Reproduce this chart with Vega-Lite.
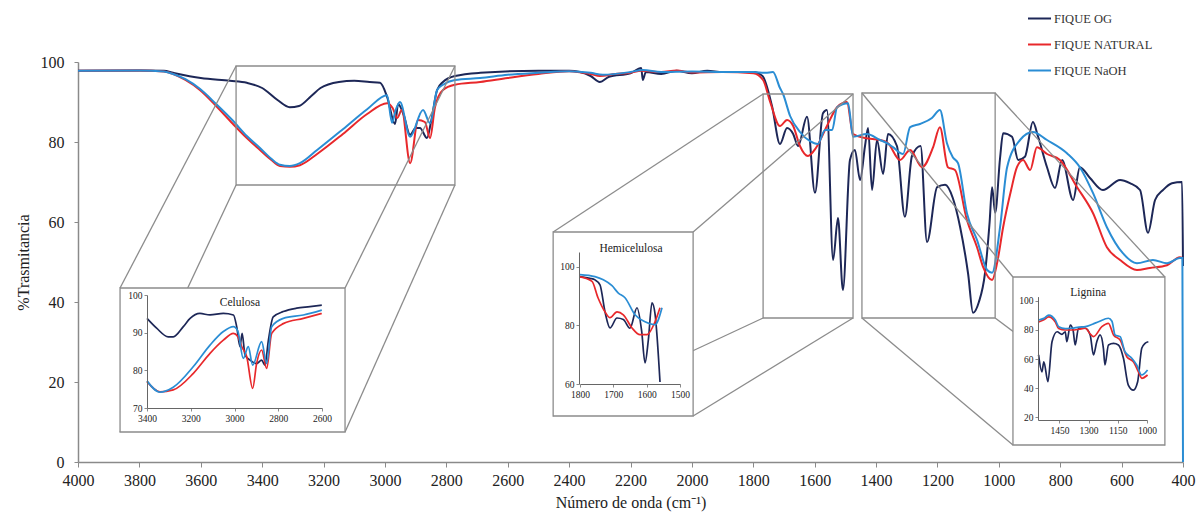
{
"$schema": "https://vega.github.io/schema/vega-lite/v6.json",
"width": 1105, "height": 400,
"autosize": {"type": "none"},
"padding": {"left": 78, "top": 62, "right": 17, "bottom": 61},
"background": "white",
"config": {
 "view": {"stroke": null},
 "axis": {"grid": false, "labelFont": "Liberation Serif, Times New Roman, serif", "titleFont": "Liberation Serif, Times New Roman, serif", "labelColor": "#222", "titleColor": "#222", "domainColor": "#8a8a8a", "tickColor": "#8a8a8a", "titleFontWeight": "normal", "labelFlush": false, "labelOverlap": false},
 "legend": {"labelFont": "Liberation Serif, Times New Roman, serif"},
 "text": {"font": "Liberation Serif, Times New Roman, serif"}
},
"datasets": {
 "main": [
  {"s":"FIQUE OG","x":4000,"y":97.8},{"s":"FIQUE OG","x":3800,"y":97.9},{"s":"FIQUE OG","x":3720,"y":97.8},{"s":"FIQUE OG","x":3690,"y":97.3},{"s":"FIQUE OG","x":3600,"y":96},{"s":"FIQUE OG","x":3505,"y":95.3},{"s":"FIQUE OG","x":3450,"y":94.8},{"s":"FIQUE OG","x":3400,"y":93.5},{"s":"FIQUE OG","x":3350,"y":90.5},{"s":"FIQUE OG","x":3310,"y":88.7},{"s":"FIQUE OG","x":3280,"y":89},{"s":"FIQUE OG","x":3240,"y":91.5},{"s":"FIQUE OG","x":3210,"y":93.5},{"s":"FIQUE OG","x":3150,"y":95},{"s":"FIQUE OG","x":3100,"y":95.3},{"s":"FIQUE OG","x":3050,"y":95},{"s":"FIQUE OG","x":3016,"y":94.8},{"s":"FIQUE OG","x":2993,"y":91.3},{"s":"FIQUE OG","x":2967,"y":84.5},{"s":"FIQUE OG","x":2957,"y":89.5},{"s":"FIQUE OG","x":2940,"y":87},{"s":"FIQUE OG","x":2918,"y":81.8},{"s":"FIQUE OG","x":2900,"y":83.5},{"s":"FIQUE OG","x":2886,"y":83.5},{"s":"FIQUE OG","x":2863,"y":81},{"s":"FIQUE OG","x":2850,"y":85},{"s":"FIQUE OG","x":2830,"y":93},{"s":"FIQUE OG","x":2811,"y":95},{"s":"FIQUE OG","x":2772,"y":96.5},{"s":"FIQUE OG","x":2690,"y":97.3},{"s":"FIQUE OG","x":2500,"y":97.8},{"s":"FIQUE OG","x":2400,"y":97.8},{"s":"FIQUE OG","x":2330,"y":96.5},{"s":"FIQUE OG","x":2300,"y":95},{"s":"FIQUE OG","x":2270,"y":96.3},{"s":"FIQUE OG","x":2200,"y":97.2},{"s":"FIQUE OG","x":2165,"y":98.5},{"s":"FIQUE OG","x":2160,"y":95.5},{"s":"FIQUE OG","x":2150,"y":97.5},{"s":"FIQUE OG","x":2100,"y":97},{"s":"FIQUE OG","x":2050,"y":97.8},{"s":"FIQUE OG","x":2000,"y":97.2},{"s":"FIQUE OG","x":1950,"y":97.8},{"s":"FIQUE OG","x":1900,"y":97.5},{"s":"FIQUE OG","x":1800,"y":97.5},{"s":"FIQUE OG","x":1770,"y":96.5},{"s":"FIQUE OG","x":1739,"y":89},{"s":"FIQUE OG","x":1713,"y":79.5},{"s":"FIQUE OG","x":1690,"y":83.5},{"s":"FIQUE OG","x":1670,"y":82},{"s":"FIQUE OG","x":1654,"y":79},{"s":"FIQUE OG","x":1625,"y":86.3},{"s":"FIQUE OG","x":1599,"y":67.3},{"s":"FIQUE OG","x":1573,"y":87.2},{"s":"FIQUE OG","x":1560,"y":88},{"s":"FIQUE OG","x":1540,"y":50.5},{"s":"FIQUE OG","x":1524,"y":61},{"s":"FIQUE OG","x":1508,"y":43},{"s":"FIQUE OG","x":1485,"y":75.5},{"s":"FIQUE OG","x":1469,"y":78},{"s":"FIQUE OG","x":1452,"y":70.5},{"s":"FIQUE OG","x":1436,"y":79},{"s":"FIQUE OG","x":1426,"y":83.5},{"s":"FIQUE OG","x":1413,"y":68},{"s":"FIQUE OG","x":1397,"y":80.5},{"s":"FIQUE OG","x":1377,"y":72},{"s":"FIQUE OG","x":1361,"y":82},{"s":"FIQUE OG","x":1332,"y":79},{"s":"FIQUE OG","x":1306,"y":61.3},{"s":"FIQUE OG","x":1283,"y":76.5},{"s":"FIQUE OG","x":1255,"y":79},{"s":"FIQUE OG","x":1234,"y":55},{"s":"FIQUE OG","x":1201,"y":68.7},{"s":"FIQUE OG","x":1175,"y":69.3},{"s":"FIQUE OG","x":1150,"y":66},{"s":"FIQUE OG","x":1126,"y":58.7},{"s":"FIQUE OG","x":1100,"y":47},{"s":"FIQUE OG","x":1084,"y":37.3},{"s":"FIQUE OG","x":1065,"y":40},{"s":"FIQUE OG","x":1045,"y":47.3},{"s":"FIQUE OG","x":1030,"y":60},{"s":"FIQUE OG","x":1022,"y":68.7},{"s":"FIQUE OG","x":1012,"y":62.3},{"s":"FIQUE OG","x":996,"y":76},{"s":"FIQUE OG","x":986,"y":82.2},{"s":"FIQUE OG","x":957,"y":81.3},{"s":"FIQUE OG","x":937,"y":75.5},{"s":"FIQUE OG","x":915,"y":76.3},{"s":"FIQUE OG","x":889,"y":85},{"s":"FIQUE OG","x":872,"y":81.3},{"s":"FIQUE OG","x":843,"y":73.7},{"s":"FIQUE OG","x":817,"y":68.5},{"s":"FIQUE OG","x":794,"y":75.5},{"s":"FIQUE OG","x":758,"y":65.5},{"s":"FIQUE OG","x":736,"y":73.7},{"s":"FIQUE OG","x":703,"y":71},{"s":"FIQUE OG","x":661,"y":68},{"s":"FIQUE OG","x":605,"y":70.5},{"s":"FIQUE OG","x":573,"y":69.7},{"s":"FIQUE OG","x":540,"y":68},{"s":"FIQUE OG","x":514,"y":57.3},{"s":"FIQUE OG","x":491,"y":65.5},{"s":"FIQUE OG","x":465,"y":68},{"s":"FIQUE OG","x":436,"y":69.7},{"s":"FIQUE OG","x":403,"y":70},{"s":"FIQUE OG","x":400,"y":49},
  {"s":"FIQUE NATURAL","x":4000,"y":97.8},{"s":"FIQUE NATURAL","x":3800,"y":97.9},{"s":"FIQUE NATURAL","x":3720,"y":97.6},{"s":"FIQUE NATURAL","x":3690,"y":97},{"s":"FIQUE NATURAL","x":3650,"y":95.5},{"s":"FIQUE NATURAL","x":3603,"y":93},{"s":"FIQUE NATURAL","x":3550,"y":89},{"s":"FIQUE NATURAL","x":3495,"y":84.5},{"s":"FIQUE NATURAL","x":3450,"y":81},{"s":"FIQUE NATURAL","x":3407,"y":78},{"s":"FIQUE NATURAL","x":3370,"y":75.5},{"s":"FIQUE NATURAL","x":3342,"y":74},{"s":"FIQUE NATURAL","x":3310,"y":73.8},{"s":"FIQUE NATURAL","x":3277,"y":74.2},{"s":"FIQUE NATURAL","x":3221,"y":77},{"s":"FIQUE NATURAL","x":3137,"y":82},{"s":"FIQUE NATURAL","x":3058,"y":87},{"s":"FIQUE NATURAL","x":2993,"y":89.7},{"s":"FIQUE NATURAL","x":2975,"y":88.5},{"s":"FIQUE NATURAL","x":2960,"y":86},{"s":"FIQUE NATURAL","x":2945,"y":88},{"s":"FIQUE NATURAL","x":2918,"y":74.7},{"s":"FIQUE NATURAL","x":2892,"y":85.5},{"s":"FIQUE NATURAL","x":2870,"y":85},{"s":"FIQUE NATURAL","x":2853,"y":81},{"s":"FIQUE NATURAL","x":2837,"y":88.7},{"s":"FIQUE NATURAL","x":2811,"y":93},{"s":"FIQUE NATURAL","x":2772,"y":94.3},{"s":"FIQUE NATURAL","x":2690,"y":95},{"s":"FIQUE NATURAL","x":2600,"y":96},{"s":"FIQUE NATURAL","x":2500,"y":97},{"s":"FIQUE NATURAL","x":2400,"y":97.7},{"s":"FIQUE NATURAL","x":2330,"y":97},{"s":"FIQUE NATURAL","x":2300,"y":96.5},{"s":"FIQUE NATURAL","x":2250,"y":97},{"s":"FIQUE NATURAL","x":2200,"y":97.3},{"s":"FIQUE NATURAL","x":2165,"y":97.8},{"s":"FIQUE NATURAL","x":2100,"y":97.5},{"s":"FIQUE NATURAL","x":2050,"y":97.9},{"s":"FIQUE NATURAL","x":2000,"y":97.4},{"s":"FIQUE NATURAL","x":1900,"y":97.5},{"s":"FIQUE NATURAL","x":1800,"y":97.2},{"s":"FIQUE NATURAL","x":1768,"y":95.5},{"s":"FIQUE NATURAL","x":1745,"y":90},{"s":"FIQUE NATURAL","x":1713,"y":84},{"s":"FIQUE NATURAL","x":1690,"y":85.5},{"s":"FIQUE NATURAL","x":1670,"y":84},{"s":"FIQUE NATURAL","x":1648,"y":79},{"s":"FIQUE NATURAL","x":1622,"y":76.5},{"s":"FIQUE NATURAL","x":1596,"y":78.5},{"s":"FIQUE NATURAL","x":1560,"y":84},{"s":"FIQUE NATURAL","x":1527,"y":88.7},{"s":"FIQUE NATURAL","x":1495,"y":90},{"s":"FIQUE NATURAL","x":1475,"y":82},{"s":"FIQUE NATURAL","x":1436,"y":81},{"s":"FIQUE NATURAL","x":1387,"y":80.5},{"s":"FIQUE NATURAL","x":1361,"y":79.7},{"s":"FIQUE NATURAL","x":1322,"y":75.5},{"s":"FIQUE NATURAL","x":1289,"y":78},{"s":"FIQUE NATURAL","x":1250,"y":73.7},{"s":"FIQUE NATURAL","x":1214,"y":78.7},{"s":"FIQUE NATURAL","x":1192,"y":83.7},{"s":"FIQUE NATURAL","x":1166,"y":73.7},{"s":"FIQUE NATURAL","x":1143,"y":73},{"s":"FIQUE NATURAL","x":1104,"y":60.5},{"s":"FIQUE NATURAL","x":1071,"y":53.7},{"s":"FIQUE NATURAL","x":1051,"y":48.7},{"s":"FIQUE NATURAL","x":1022,"y":45.5},{"s":"FIQUE NATURAL","x":1005,"y":50},{"s":"FIQUE NATURAL","x":986,"y":58.7},{"s":"FIQUE NATURAL","x":960,"y":68},{"s":"FIQUE NATURAL","x":941,"y":73.7},{"s":"FIQUE NATURAL","x":921,"y":75.5},{"s":"FIQUE NATURAL","x":898,"y":73},{"s":"FIQUE NATURAL","x":876,"y":78.7},{"s":"FIQUE NATURAL","x":843,"y":77},{"s":"FIQUE NATURAL","x":801,"y":75.5},{"s":"FIQUE NATURAL","x":745,"y":68.7},{"s":"FIQUE NATURAL","x":693,"y":62.2},{"s":"FIQUE NATURAL","x":648,"y":53.7},{"s":"FIQUE NATURAL","x":605,"y":50.5},{"s":"FIQUE NATURAL","x":550,"y":48},{"s":"FIQUE NATURAL","x":508,"y":48.5},{"s":"FIQUE NATURAL","x":452,"y":49.2},{"s":"FIQUE NATURAL","x":410,"y":51.2},{"s":"FIQUE NATURAL","x":402,"y":51},
  {"s":"FIQUE NaOH","x":4000,"y":97.8},{"s":"FIQUE NaOH","x":3800,"y":97.9},{"s":"FIQUE NaOH","x":3720,"y":97.6},{"s":"FIQUE NaOH","x":3690,"y":97},{"s":"FIQUE NaOH","x":3650,"y":95.7},{"s":"FIQUE NaOH","x":3603,"y":93.3},{"s":"FIQUE NaOH","x":3550,"y":89.5},{"s":"FIQUE NaOH","x":3495,"y":85.3},{"s":"FIQUE NaOH","x":3450,"y":81.5},{"s":"FIQUE NaOH","x":3407,"y":78.5},{"s":"FIQUE NaOH","x":3370,"y":75.8},{"s":"FIQUE NaOH","x":3342,"y":74.3},{"s":"FIQUE NaOH","x":3310,"y":74},{"s":"FIQUE NaOH","x":3277,"y":74.7},{"s":"FIQUE NaOH","x":3221,"y":78},{"s":"FIQUE NaOH","x":3137,"y":83.2},{"s":"FIQUE NaOH","x":3058,"y":88.2},{"s":"FIQUE NaOH","x":2993,"y":91.7},{"s":"FIQUE NaOH","x":2977,"y":84.8},{"s":"FIQUE NaOH","x":2965,"y":88},{"s":"FIQUE NaOH","x":2951,"y":90},{"s":"FIQUE NaOH","x":2918,"y":81.3},{"s":"FIQUE NaOH","x":2876,"y":88},{"s":"FIQUE NaOH","x":2853,"y":84.7},{"s":"FIQUE NaOH","x":2830,"y":93},{"s":"FIQUE NaOH","x":2811,"y":94.3},{"s":"FIQUE NaOH","x":2772,"y":95.5},{"s":"FIQUE NaOH","x":2690,"y":96},{"s":"FIQUE NaOH","x":2600,"y":96.8},{"s":"FIQUE NaOH","x":2500,"y":97.3},{"s":"FIQUE NaOH","x":2400,"y":97.7},{"s":"FIQUE NaOH","x":2330,"y":97.3},{"s":"FIQUE NaOH","x":2290,"y":96.8},{"s":"FIQUE NaOH","x":2200,"y":97.5},{"s":"FIQUE NaOH","x":2160,"y":98},{"s":"FIQUE NaOH","x":2100,"y":97.5},{"s":"FIQUE NaOH","x":2000,"y":97.6},{"s":"FIQUE NaOH","x":1900,"y":97.5},{"s":"FIQUE NaOH","x":1800,"y":97.5},{"s":"FIQUE NaOH","x":1760,"y":97.3},{"s":"FIQUE NaOH","x":1736,"y":97.5},{"s":"FIQUE NaOH","x":1713,"y":93.5},{"s":"FIQUE NaOH","x":1703,"y":92},{"s":"FIQUE NaOH","x":1680,"y":86.5},{"s":"FIQUE NaOH","x":1648,"y":82.5},{"s":"FIQUE NaOH","x":1615,"y":80.2},{"s":"FIQUE NaOH","x":1590,"y":79.5},{"s":"FIQUE NaOH","x":1566,"y":83},{"s":"FIQUE NaOH","x":1543,"y":83},{"s":"FIQUE NaOH","x":1527,"y":88.7},{"s":"FIQUE NaOH","x":1491,"y":89.7},{"s":"FIQUE NaOH","x":1475,"y":81.3},{"s":"FIQUE NaOH","x":1430,"y":82},{"s":"FIQUE NaOH","x":1387,"y":80.5},{"s":"FIQUE NaOH","x":1364,"y":79.7},{"s":"FIQUE NaOH","x":1345,"y":78.7},{"s":"FIQUE NaOH","x":1312,"y":77},{"s":"FIQUE NaOH","x":1289,"y":83.7},{"s":"FIQUE NaOH","x":1257,"y":84.5},{"s":"FIQUE NaOH","x":1218,"y":86},{"s":"FIQUE NaOH","x":1192,"y":88},{"s":"FIQUE NaOH","x":1169,"y":79.7},{"s":"FIQUE NaOH","x":1150,"y":76.2},{"s":"FIQUE NaOH","x":1133,"y":74.7},{"s":"FIQUE NaOH","x":1104,"y":62.2},{"s":"FIQUE NaOH","x":1071,"y":55.5},{"s":"FIQUE NaOH","x":1038,"y":48},{"s":"FIQUE NaOH","x":1022,"y":47.3},{"s":"FIQUE NaOH","x":996,"y":58.7},{"s":"FIQUE NaOH","x":973,"y":73.7},{"s":"FIQUE NaOH","x":931,"y":80.5},{"s":"FIQUE NaOH","x":889,"y":82.5},{"s":"FIQUE NaOH","x":843,"y":80.5},{"s":"FIQUE NaOH","x":778,"y":77.2},{"s":"FIQUE NaOH","x":736,"y":73.7},{"s":"FIQUE NaOH","x":693,"y":67.2},{"s":"FIQUE NaOH","x":648,"y":58.7},{"s":"FIQUE NaOH","x":596,"y":52.2},{"s":"FIQUE NaOH","x":550,"y":49.7},{"s":"FIQUE NaOH","x":498,"y":50.5},{"s":"FIQUE NaOH","x":452,"y":49.7},{"s":"FIQUE NaOH","x":410,"y":51},{"s":"FIQUE NaOH","x":402,"y":51},{"s":"FIQUE NaOH","x":400,"y":0}
 ],
 "cel": [
  {"s":"FIQUE OG","x":3400,"y":93.8},{"s":"FIQUE OG","x":3356,"y":91.2},{"s":"FIQUE OG","x":3303,"y":88.9},{"s":"FIQUE OG","x":3280,"y":88.9},{"s":"FIQUE OG","x":3234,"y":91.6},{"s":"FIQUE OG","x":3203,"y":93.8},{"s":"FIQUE OG","x":3158,"y":95.1},{"s":"FIQUE OG","x":3112,"y":94.7},{"s":"FIQUE OG","x":3051,"y":95.1},{"s":"FIQUE OG","x":3005,"y":94.7},{"s":"FIQUE OG","x":2990,"y":91.6},{"s":"FIQUE OG","x":2975,"y":86.3},{"s":"FIQUE OG","x":2965,"y":89.8},{"s":"FIQUE OG","x":2952,"y":84.1},{"s":"FIQUE OG","x":2929,"y":82.7},{"s":"FIQUE OG","x":2899,"y":81.8},{"s":"FIQUE OG","x":2876,"y":82.7},{"s":"FIQUE OG","x":2861,"y":81.4},{"s":"FIQUE OG","x":2845,"y":88},{"s":"FIQUE OG","x":2823,"y":94.2},{"s":"FIQUE OG","x":2777,"y":95.6},{"s":"FIQUE OG","x":2716,"y":96.5},{"s":"FIQUE OG","x":2655,"y":96.9},{"s":"FIQUE OG","x":2601,"y":97.3},
  {"s":"FIQUE NATURAL","x":3400,"y":77},{"s":"FIQUE NATURAL","x":3341,"y":74.3},{"s":"FIQUE NATURAL","x":3280,"y":74.8},{"s":"FIQUE NATURAL","x":3188,"y":79.2},{"s":"FIQUE NATURAL","x":3112,"y":84.5},{"s":"FIQUE NATURAL","x":3051,"y":88},{"s":"FIQUE NATURAL","x":3005,"y":89.8},{"s":"FIQUE NATURAL","x":2985,"y":89},{"s":"FIQUE NATURAL","x":2967,"y":86.3},{"s":"FIQUE NATURAL","x":2944,"y":83.6},{"s":"FIQUE NATURAL","x":2917,"y":75.2},{"s":"FIQUE NATURAL","x":2899,"y":81.8},{"s":"FIQUE NATURAL","x":2876,"y":85.4},{"s":"FIQUE NATURAL","x":2853,"y":80.5},{"s":"FIQUE NATURAL","x":2830,"y":89.8},{"s":"FIQUE NATURAL","x":2777,"y":92.4},{"s":"FIQUE NATURAL","x":2685,"y":93.8},{"s":"FIQUE NATURAL","x":2601,"y":95.1},
  {"s":"FIQUE NaOH","x":3400,"y":77.2},{"s":"FIQUE NaOH","x":3341,"y":74.2},{"s":"FIQUE NaOH","x":3280,"y":75.5},{"s":"FIQUE NaOH","x":3188,"y":81},{"s":"FIQUE NaOH","x":3112,"y":86.7},{"s":"FIQUE NaOH","x":3051,"y":90.3},{"s":"FIQUE NaOH","x":3005,"y":91.6},{"s":"FIQUE NaOH","x":2985,"y":90.5},{"s":"FIQUE NaOH","x":2960,"y":83.2},{"s":"FIQUE NaOH","x":2937,"y":86.3},{"s":"FIQUE NaOH","x":2917,"y":81.4},{"s":"FIQUE NaOH","x":2876,"y":87.6},{"s":"FIQUE NaOH","x":2853,"y":81.8},{"s":"FIQUE NaOH","x":2830,"y":91.6},{"s":"FIQUE NaOH","x":2777,"y":93.8},{"s":"FIQUE NaOH","x":2685,"y":94.7},{"s":"FIQUE NaOH","x":2601,"y":96}
 ],
 "hemi": [
  {"s":"FIQUE OG","x":1800,"y":96.6},{"s":"FIQUE OG","x":1770,"y":96},{"s":"FIQUE OG","x":1755,"y":95.5},{"s":"FIQUE OG","x":1740,"y":93.8},{"s":"FIQUE OG","x":1725,"y":84.6},{"s":"FIQUE OG","x":1710,"y":79.1},{"s":"FIQUE OG","x":1689,"y":82.5},{"s":"FIQUE OG","x":1670,"y":82},{"s":"FIQUE OG","x":1650,"y":79},{"s":"FIQUE OG","x":1629,"y":86},{"s":"FIQUE OG","x":1615,"y":78},{"s":"FIQUE OG","x":1605,"y":67.2},{"s":"FIQUE OG","x":1595,"y":75},{"s":"FIQUE OG","x":1584,"y":87.7},{"s":"FIQUE OG","x":1575,"y":84},{"s":"FIQUE OG","x":1560,"y":60.7},
  {"s":"FIQUE NATURAL","x":1800,"y":96.5},{"s":"FIQUE NATURAL","x":1764,"y":95},{"s":"FIQUE NATURAL","x":1746,"y":89.4},{"s":"FIQUE NATURAL","x":1725,"y":84.6},{"s":"FIQUE NATURAL","x":1710,"y":82.6},{"s":"FIQUE NATURAL","x":1689,"y":84.6},{"s":"FIQUE NATURAL","x":1670,"y":83.6},{"s":"FIQUE NATURAL","x":1644,"y":79.1},{"s":"FIQUE NATURAL","x":1620,"y":76.8},{"s":"FIQUE NATURAL","x":1599,"y":76.8},{"s":"FIQUE NATURAL","x":1575,"y":81.2},{"s":"FIQUE NATURAL","x":1560,"y":86},
  {"s":"FIQUE NaOH","x":1800,"y":97.3},{"s":"FIQUE NaOH","x":1755,"y":96.6},{"s":"FIQUE NaOH","x":1730,"y":95.5},{"s":"FIQUE NaOH","x":1704,"y":93.5},{"s":"FIQUE NaOH","x":1685,"y":91},{"s":"FIQUE NaOH","x":1665,"y":89.4},{"s":"FIQUE NaOH","x":1635,"y":83.6},{"s":"FIQUE NaOH","x":1605,"y":81.2},{"s":"FIQUE NaOH","x":1575,"y":80.2},{"s":"FIQUE NaOH","x":1554,"y":86}
 ],
 "lig": [
  {"s":"FIQUE OG","x":1557,"y":62.8},{"s":"FIQUE OG","x":1540,"y":51.2},{"s":"FIQUE OG","x":1530,"y":58.1},{"s":"FIQUE OG","x":1509,"y":44.4},{"s":"FIQUE OG","x":1488,"y":71.9},{"s":"FIQUE OG","x":1462,"y":78.8},{"s":"FIQUE OG","x":1437,"y":77},{"s":"FIQUE OG","x":1420,"y":78.8},{"s":"FIQUE OG","x":1412,"y":71.9},{"s":"FIQUE OG","x":1394,"y":83.4},{"s":"FIQUE OG","x":1380,"y":80},{"s":"FIQUE OG","x":1369,"y":69.7},{"s":"FIQUE OG","x":1352,"y":81.2},{"s":"FIQUE OG","x":1317,"y":81.2},{"s":"FIQUE OG","x":1292,"y":76.6},{"s":"FIQUE OG","x":1275,"y":62.8},{"s":"FIQUE OG","x":1258,"y":71.9},{"s":"FIQUE OG","x":1241,"y":76.6},{"s":"FIQUE OG","x":1224,"y":67.4},{"s":"FIQUE OG","x":1216,"y":55.9},{"s":"FIQUE OG","x":1198,"y":69.7},{"s":"FIQUE OG","x":1172,"y":70.8},{"s":"FIQUE OG","x":1147,"y":69.7},{"s":"FIQUE OG","x":1121,"y":60.5},{"s":"FIQUE OG","x":1096,"y":42.1},{"s":"FIQUE OG","x":1070,"y":38.6},{"s":"FIQUE OG","x":1048,"y":44.4},{"s":"FIQUE OG","x":1027,"y":67.4},{"s":"FIQUE OG","x":1010,"y":70.8},{"s":"FIQUE OG","x":993,"y":71.9},
  {"s":"FIQUE NATURAL","x":1557,"y":85.5},{"s":"FIQUE NATURAL","x":1530,"y":87},{"s":"FIQUE NATURAL","x":1505,"y":89},{"s":"FIQUE NATURAL","x":1471,"y":85.5},{"s":"FIQUE NATURAL","x":1454,"y":81},{"s":"FIQUE NATURAL","x":1420,"y":80},{"s":"FIQUE NATURAL","x":1386,"y":80},{"s":"FIQUE NATURAL","x":1350,"y":80.5},{"s":"FIQUE NATURAL","x":1317,"y":81.2},{"s":"FIQUE NATURAL","x":1290,"y":77},{"s":"FIQUE NATURAL","x":1275,"y":75.4},{"s":"FIQUE NATURAL","x":1232,"y":82.3},{"s":"FIQUE NATURAL","x":1198,"y":84.6},{"s":"FIQUE NATURAL","x":1172,"y":76.6},{"s":"FIQUE NATURAL","x":1138,"y":73.1},{"s":"FIQUE NATURAL","x":1104,"y":61.6},{"s":"FIQUE NATURAL","x":1070,"y":58.1},{"s":"FIQUE NATURAL","x":1040,"y":50},{"s":"FIQUE NATURAL","x":1027,"y":46.7},{"s":"FIQUE NATURAL","x":997,"y":49},
  {"s":"FIQUE NaOH","x":1557,"y":86.9},{"s":"FIQUE NaOH","x":1530,"y":88},{"s":"FIQUE NaOH","x":1505,"y":90.3},{"s":"FIQUE NaOH","x":1471,"y":86.9},{"s":"FIQUE NaOH","x":1454,"y":82.3},{"s":"FIQUE NaOH","x":1420,"y":81},{"s":"FIQUE NaOH","x":1386,"y":81.2},{"s":"FIQUE NaOH","x":1350,"y":82},{"s":"FIQUE NaOH","x":1317,"y":82.3},{"s":"FIQUE NaOH","x":1280,"y":84},{"s":"FIQUE NaOH","x":1249,"y":85.7},{"s":"FIQUE NaOH","x":1198,"y":88.1},{"s":"FIQUE NaOH","x":1180,"y":86},{"s":"FIQUE NaOH","x":1164,"y":76.6},{"s":"FIQUE NaOH","x":1138,"y":75.4},{"s":"FIQUE NaOH","x":1113,"y":65},{"s":"FIQUE NaOH","x":1078,"y":60.5},{"s":"FIQUE NaOH","x":1053,"y":55.9},{"s":"FIQUE NaOH","x":1027,"y":49},{"s":"FIQUE NaOH","x":997,"y":52.4}
 ],
 "back": [
  {"x":3485,"x2":2772,"y":69.25,"y2":99},
  {"x":1768,"x2":1475,"y":36,"y2":92},
  {"x":1446,"x2":1012,"y":36,"y2":92.25}
 ],
 "front": [
  {"x":3863,"x2":3130,"y":7.5,"y2":43.5},
  {"x":2452,"x2":1996,"y":11.5,"y2":57.5},
  {"x":954,"x2":459,"y":4.25,"y2":46.25}
 ],
 "conn": [
  {"x":3485,"y":99,"x2":3863,"y2":43.5},{"x":2772,"y":99,"x2":3130,"y2":43.5},{"x":3485,"y":69.25,"x2":3863,"y2":7.5},{"x":2772,"y":69.25,"x2":3130,"y2":7.5},
  {"x":1768,"y":92,"x2":2452,"y2":57.5},{"x":1475,"y":92,"x2":1996,"y2":57.5},{"x":1768,"y":36,"x2":2452,"y2":11.5},{"x":1475,"y":36,"x2":1996,"y2":11.5},
  {"x":1446,"y":92.25,"x2":954,"y2":46.25},{"x":1012,"y":92.25,"x2":459,"y2":46.25},{"x":1446,"y":36,"x2":954,"y2":4.25},{"x":1012,"y":36,"x2":459,"y2":4.25}
 ],
 "one": [{"n": 1}]
},
"resolve": {"scale": {"x": "independent", "y": "independent"}, "axis": {"x": "independent", "y": "independent"}},
"layer": [
 {
  "data": {"name": "main"},
  "mark": {"type": "line", "strokeWidth": 2, "interpolate": "monotone"},
  "encoding": {
   "x": {"field": "x", "type": "quantitative", "scale": {"domain": [4000, 400], "nice": false, "zero": false},
     "axis": {"orient": "bottom", "format": "d", "values": [4000,3800,3600,3400,3200,3000,2800,2600,2400,2200,2000,1800,1600,1400,1200,1000,800,600,400], "labelFontSize": 16, "tickSize": 5, "labelPadding": 5, "title": "Número de onda (cm⁻¹)", "titleFontSize": 16, "titlePadding": 6, "domainWidth": 1.5}},
   "y": {"field": "y", "type": "quantitative", "scale": {"domain": [0, 100], "nice": false, "zero": false},
     "axis": {"orient": "left", "format": "d", "values": [0,20,40,60,80,100], "labelFontSize": 16, "tickSize": 4, "labelPadding": 10, "title": "%Trasmitancia", "titleFontSize": 16, "titlePadding": 9, "domainWidth": 1.5}},
   "color": {"field": "s", "type": "nominal",
     "scale": {"domain": ["FIQUE OG", "FIQUE NATURAL", "FIQUE NaOH"], "range": ["#1d2757", "#e8282b", "#2a8dd4"]},
     "legend": {"orient": "none", "legendX": 949, "legendY": -56, "title": null, "symbolType": "stroke", "symbolSize": 529, "symbolStrokeWidth": 2, "labelFont": "Liberation Serif, Times New Roman, serif", "labelFontSize": 12.5, "labelColor": "#333", "rowPadding": 7, "labelOffset": 2}}
  }
 },
 {
  "data": {"name": "back"},
  "mark": {"type": "rect", "fill": "transparent", "stroke": "#8c8c8c", "strokeWidth": 1.3},
  "encoding": {
   "x": {"field": "x", "type": "quantitative", "scale": {"domain": [4000, 400], "nice": false, "zero": false}, "axis": null},
   "x2": {"field": "x2"},
   "y": {"field": "y", "type": "quantitative", "scale": {"domain": [0, 100], "nice": false, "zero": false}, "axis": null},
   "y2": {"field": "y2"}
  }
 },
 {
  "data": {"name": "conn"},
  "mark": {"type": "rule", "stroke": "#8c8c8c", "strokeWidth": 1.3},
  "encoding": {
   "x": {"field": "x", "type": "quantitative", "scale": {"domain": [4000, 400], "nice": false, "zero": false}, "axis": null},
   "x2": {"field": "x2"},
   "y": {"field": "y", "type": "quantitative", "scale": {"domain": [0, 100], "nice": false, "zero": false}, "axis": null},
   "y2": {"field": "y2"}
  }
 },
 {
  "data": {"name": "front"},
  "mark": {"type": "rect", "fill": "white", "stroke": "#8c8c8c", "strokeWidth": 1.3},
  "encoding": {
   "x": {"field": "x", "type": "quantitative", "scale": {"domain": [4000, 400], "nice": false, "zero": false}, "axis": null},
   "x2": {"field": "x2"},
   "y": {"field": "y", "type": "quantitative", "scale": {"domain": [0, 100], "nice": false, "zero": false}, "axis": null},
   "y2": {"field": "y2"}
  }
 },
 {
  "data": {"name": "cel"},
  "mark": {"type": "line", "strokeWidth": 1.7, "interpolate": "monotone"},
  "encoding": {
   "x": {"field": "x", "type": "quantitative", "scale": {"domain": [3400, 2600], "range": [69, 244], "nice": false, "zero": false},
     "axis": {"orient": "bottom", "format": "d", "offset": -54, "values": [3400,3200,3000,2800,2600], "labelFontSize": 9.5, "tickSize": 3, "labelPadding": 2, "title": null, "zindex": 1, "domainColor": "#666"}},
   "y": {"field": "y", "type": "quantitative", "scale": {"domain": [70, 100], "range": [346, 233], "nice": false, "zero": false},
     "axis": {"orient": "left", "format": "d", "offset": -69, "values": [70,80,90,100], "labelFontSize": 9.5, "tickSize": 3, "labelPadding": 2, "title": null, "zindex": 1, "domainColor": "#666"}},
   "color": {"field": "s", "type": "nominal", "legend": null}
  }
 },
 {
  "data": {"name": "one"},
  "mark": {"type": "text", "fontSize": 11.5, "color": "#222"},
  "encoding": {
   "x": {"datum": 2975, "type": "quantitative", "scale": {"domain": [3400, 2600], "range": [69, 244], "nice": false, "zero": false}, "axis": null},
   "y": {"datum": 97.9, "type": "quantitative", "scale": {"domain": [70, 100], "range": [346, 233], "nice": false, "zero": false}, "axis": null},
   "text": {"value": "Celulosa"}
  }
 },
 {
  "data": {"name": "hemi"},
  "mark": {"type": "line", "strokeWidth": 1.7, "interpolate": "monotone"},
  "encoding": {
   "x": {"field": "x", "type": "quantitative", "scale": {"domain": [1800, 1500], "range": [502, 602], "nice": false, "zero": false},
     "axis": {"orient": "bottom", "format": "d", "offset": -78, "values": [1800,1700,1600,1500], "labelFontSize": 9.5, "tickSize": 3, "labelPadding": 2, "title": null, "zindex": 1, "domainColor": "#666"}},
   "y": {"field": "y", "type": "quantitative", "scale": {"domain": [60, 105], "range": [322, 190], "nice": false, "zero": false},
     "axis": {"orient": "left", "format": "d", "offset": -501, "values": [60,80,100], "labelFontSize": 9.5, "tickSize": 3, "labelPadding": 2, "title": null, "zindex": 1, "domainColor": "#666"}},
   "color": {"field": "s", "type": "nominal", "legend": null}
  }
 },
 {
  "data": {"name": "one"},
  "mark": {"type": "text", "fontSize": 11.5, "color": "#222"},
  "encoding": {
   "x": {"datum": 1647, "type": "quantitative", "scale": {"domain": [1800, 1500], "range": [502, 602], "nice": false, "zero": false}, "axis": null},
   "y": {"datum": 106, "type": "quantitative", "scale": {"domain": [60, 105], "range": [322, 190], "nice": false, "zero": false}, "axis": null},
   "text": {"value": "Hemicelulosa"}
  }
 },
 {
  "data": {"name": "lig"},
  "mark": {"type": "line", "strokeWidth": 1.7, "interpolate": "monotone"},
  "encoding": {
   "x": {"field": "x", "type": "quantitative", "scale": {"domain": [1560, 1000], "range": [960, 1069], "nice": false, "zero": false},
     "axis": {"orient": "bottom", "format": "d", "offset": -42, "values": [1450,1300,1150,1000], "labelFontSize": 9.5, "tickSize": 3, "labelPadding": 2, "title": null, "zindex": 1, "domainColor": "#666"}},
   "y": {"field": "y", "type": "quantitative", "scale": {"domain": [18, 103], "range": [358, 234.6], "nice": false, "zero": false},
     "axis": {"orient": "left", "format": "d", "offset": -960, "values": [20,40,60,80,100], "labelFontSize": 9.5, "tickSize": 3, "labelPadding": 2, "title": null, "zindex": 1, "domainColor": "#666"}},
   "color": {"field": "s", "type": "nominal", "legend": null}
  }
 },
 {
  "data": {"name": "one"},
  "mark": {"type": "text", "fontSize": 11.5, "color": "#222"},
  "encoding": {
   "x": {"datum": 1302, "type": "quantitative", "scale": {"domain": [1560, 1000], "range": [960, 1069], "nice": false, "zero": false}, "axis": null},
   "y": {"datum": 105.5, "type": "quantitative", "scale": {"domain": [18, 103], "range": [358, 234.6], "nice": false, "zero": false}, "axis": null},
   "text": {"value": "Lignina"}
  }
 }
]
}
